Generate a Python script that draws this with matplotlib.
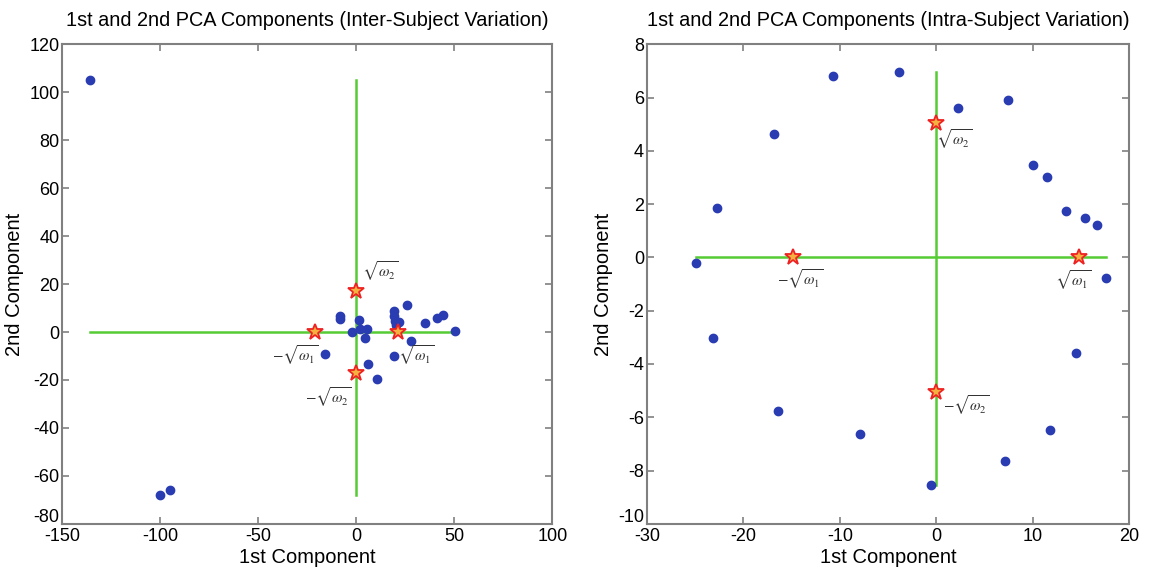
import matplotlib.pyplot as plt
from matplotlib.transforms import ScaledTranslation

plt.rcParams['font.family'] = ['Liberation Sans', 'DejaVu Sans']
plt.rcParams['mathtext.fontset'] = 'stix'
plt.rcParams['axes.unicode_minus'] = False

# Inter-subject variation (left panel)
inter_x = [-136, -100, -95, 26.0, -8.5, -8.5, 19.2, 19.2, 19.7, 21.8, 20.1, 1.4, 35.0,
           41.0, 44.4, 50.2, -2.0, 1.9, 5.3, 4.3, 27.7, -16.0, 19.2, 6.1, 10.7]
inter_y = [105, -68, -66, 11.4, 6.7, 5.6, 8.6, 6.7, 4.6, 4.2, 2.8, 4.9, 3.9,
           5.8, 7.2, 0.6, 0.0, 1.1, 1.1, -2.5, -3.6, -9.0, -10.1, -13.2, -19.7]
inter_sqrt_w = [21, 17]

# Intra-subject variation (right panel)
intra_x = [-10.7, -3.9, 2.3, 7.4, -16.8, 10.0, 11.5, 13.5, 15.4, 16.7, -22.7, -24.9,
           17.6, -23.1, 14.5, -16.4, -7.9, 11.8, 7.1, -0.5]
intra_y = [6.82, 6.97, 5.61, 5.92, 4.62, 3.45, 3.0, 1.74, 1.49, 1.21, 1.87, -0.2,
           -0.76, -3.04, -3.6, -5.77, -6.64, -6.49, -7.65, -8.55]
intra_sqrt_w = [14.8, 5.05]

panels = [
    dict(x=inter_x, y=inter_y, w=inter_sqrt_w, xlim=(-150, 100), ylim=(-80, 120),
         xticks=range(-150, 101, 50), yticks=range(-80, 121, 20),
         title='1st and 2nd PCA Components (Inter-Subject Variation)'),
    dict(x=intra_x, y=intra_y, w=intra_sqrt_w, xlim=(-30, 20), ylim=(-10, 8),
         xticks=range(-30, 21, 10), yticks=range(-10, 9, 2),
         title='1st and 2nd PCA Components (Intra-Subject Variation)'),
]

fig = plt.figure(figsize=(11.51, 5.75), dpi=100)
rects = [[0.054, 0.089, 0.426, 0.834], [0.562, 0.089, 0.419, 0.834]]

green = '#55cc33'
blue = '#2a3cb2'

# label offsets (points) for +w1, -w1, +w2, -w2
label_pos = [
    [(0, -8, 'left', 'top'), (3, -8, 'right', 'top'), (4, 6, 'left', 'bottom'), (-3, -9, 'right', 'top')],
    [(-4, -8, 'center', 'top'), (5, -7, 'center', 'top'), (0, -3, 'left', 'top'), (5, -1, 'left', 'top')],
]

for i, p in enumerate(panels):
    ax = fig.add_axes(rects[i])
    w1, w2 = p['w']
    ax.plot([min(p['x']), max(p['x'])], [0, 0], color=green, lw=1.8, zorder=1)
    ax.plot([0, 0], [min(p['y']), max(p['y'])], color=green, lw=1.8, zorder=1)
    ax.plot(p['x'], p['y'], 'o', color=blue, ms=6, zorder=2)
    sx = [w1, -w1, 0, 0]
    sy = [0, 0, w2, -w2]
    ax.plot(sx, sy, '*', ms=12, mec='#ee2222', mfc='#f5b040', mew=1.3, zorder=3)
    texts = [r'$\sqrt{\omega_1}$', r'$-\sqrt{\omega_1}$', r'$\sqrt{\omega_2}$', r'$-\sqrt{\omega_2}$']
    for (tx, ty, t, (dx, dy, ha, va)) in zip(sx, sy, texts, label_pos[i]):
        ax.annotate(t, (tx, ty), xytext=(dx, dy), textcoords='offset points',
                    ha=ha, va=va, fontsize=11, color='#333333')
    ax.set_xlim(*p['xlim'])
    ax.set_ylim(*p['ylim'])
    ax.set_xticks(list(p['xticks']))
    ax.set_yticks(list(p['yticks']))
    ax.tick_params(direction='in', top=True, right=True, labelsize=13, length=5,
                   color='#808080', width=1.2, pad=2)
    ax.tick_params(axis='x', pad=3)
    # lift the lowest y tick label a little, like the original corner
    lowest = ax.get_yticklabels()[0]
    lowest.set_transform(lowest.get_transform() + ScaledTranslation(0, 6 / 72, fig.dpi_scale_trans))
    for s in ax.spines.values():
        s.set_color('#808080')
        s.set_linewidth(1.5)
    ax.set_xlabel('1st Component', fontsize=14.5, labelpad=2)
    ax.set_ylabel('2nd Component', fontsize=14.5, labelpad=4)
    ax.set_title(p['title'], fontsize=14.3, pad=13)

fig.savefig('out.png', dpi=100)
